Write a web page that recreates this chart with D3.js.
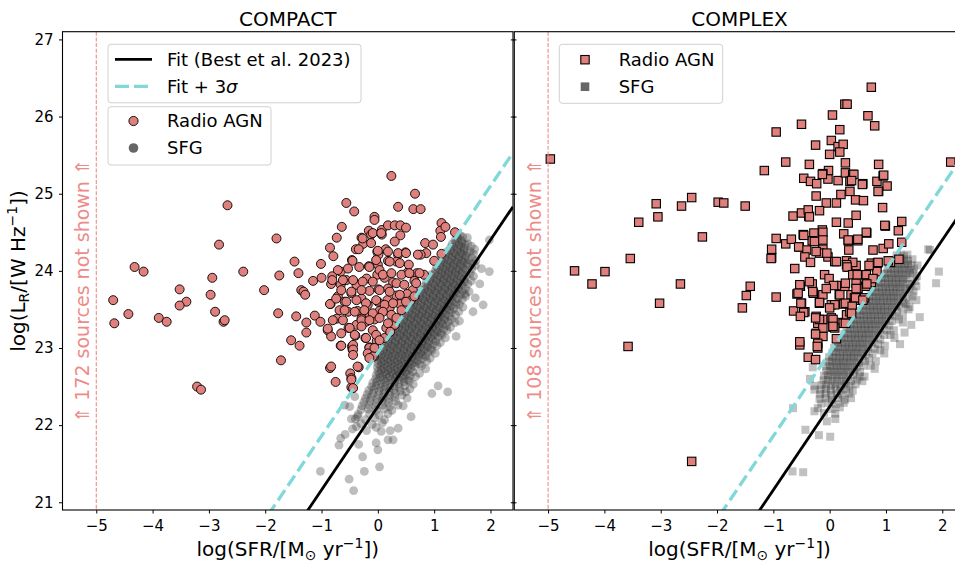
<!DOCTYPE html>
<html lang="en">
<head>
<meta charset="UTF-8">
<title>Radio AGN vs SFG</title>
<style>
    body { margin: 0; background: #fff; }
    svg { font-family: "DejaVu Sans", sans-serif; }
</style>
</head>
<body>
<div id="chart"></div>
<script src="https://d3js.org/d3.v7.min.js"></script>
<script>
// ---- data: [log SFR, log L_R] ----
const compactAgn = [
 [-2.67,24.85],[-2.82,24.34],[-1.80,24.42],[-4.32,24.05],[-4.16,23.99],[-2.39,23.99],[-2.94,23.91],[-1.75,23.94],[-1.48,24.12],[-1.41,23.97],
 [-3.52,23.76],[-2.02,23.75],[-4.70,23.62],[-2.97,23.69],[-3.40,23.60],[-3.52,23.55],[-4.43,23.44],[-4.68,23.32],[-3.89,23.39],[-3.75,23.34],
 [-2.89,23.47],[-2.74,23.34],[-2.72,23.36],[-1.77,23.45],[-1.45,23.41],[-1.54,23.10],[-1.39,23.03],[-1.72,22.84],[-3.21,22.50],[-3.14,22.46],
 [-1.36,23.75],[-1.32,23.73],[-1.29,23.69],[-1.27,23.33],[-1.27,23.20],[-1.12,23.42],[-1.02,23.34],[-0.89,23.23],[-0.83,23.15],[-0.85,22.74],
 [-0.75,22.56],[-0.66,23.03],[-0.84,23.57],
 [0.24,25.23],[0.66,25.00],[0.36,24.83],[0.63,24.80],[0.76,24.80],[-0.56,24.88],[-0.42,24.77],[-0.06,24.70],[-0.06,24.66],[-0.64,24.57],
 [-0.73,24.43],[-0.85,24.30],[-0.79,24.19],[-0.39,24.28],[-0.29,24.43],[-0.26,24.35],[-0.16,24.52],[-0.12,24.47],[0.07,24.53],[0.07,24.47],
 [0.18,24.59],[0.30,24.59],[0.40,24.59],[0.50,24.56],[0.40,24.46],[0.30,24.38],[-0.01,24.25],[0.01,24.21],[0.14,24.28],[0.36,24.21],
 [0.49,24.24],[0.84,24.36],[0.98,24.34],[1.13,24.62],[1.11,24.52],[1.12,24.44],[1.20,24.57],[1.37,24.50],[0.86,24.23],[0.76,24.21],
 [1.13,24.22],[1.00,24.13],[-1.01,24.09],[-1.15,23.87],[-1.00,23.91],[-0.81,23.93],[-0.66,23.99],[-0.46,24.14],[-0.33,24.05],[-0.16,24.06],
 [0.00,24.08],[0.18,24.13],[0.33,24.12],[0.53,23.98],[0.69,23.97],[0.82,23.95],[0.65,23.87],[0.62,23.75],[0.52,23.70],[0.58,23.61],
 [0.49,23.55],[-0.83,23.83],[-0.66,23.82],[-0.56,23.88],[-0.85,23.57],[-0.71,23.67],[-0.47,23.71],[-0.38,23.82],[-0.20,23.90],[-0.15,23.74],
 [-0.01,23.95],[0.12,23.91],[0.27,23.85],[0.18,23.77],[0.01,23.76],[0.33,23.68],[0.17,23.62],[0.00,23.60],[-0.18,23.56],[-0.36,23.48],
 [-0.53,23.47],[-0.68,23.49],[-0.59,23.60],[-0.29,23.64],[-0.15,23.41],[0.03,23.48],[0.21,23.52],[0.39,23.57],[-0.89,23.25],[-0.73,23.38],
 [-0.52,23.26],[-0.38,23.30],[-0.21,23.34],[-0.29,23.38],[-0.06,23.37],[0.15,23.26],[0.30,23.30],[-0.40,23.16],[-0.22,23.13],[-0.02,23.09],
 [0.12,23.13],[-0.46,23.02],[-0.45,22.98],[-0.15,23.01],[-0.09,23.00],[-0.49,22.67],[-0.47,22.61],[-0.34,22.75],[-0.47,22.49],[-0.07,22.89],
 [-0.27,24.42],[-0.09,24.49],[0.06,24.49],[-0.12,24.36],[-0.34,24.28],[0.00,24.26],[0.18,24.25],[-0.03,24.14],[0.36,24.23],[0.50,24.23],
 [0.71,24.21],[-0.45,24.13],[0.21,24.12],[0.39,24.10],[0.55,24.08],[-0.71,24.01],[-0.53,24.03],[-0.15,24.05],[0.03,24.01],[0.09,23.95],
 [0.24,23.97],[0.42,23.95],[0.56,23.97],[0.74,23.97],[-0.81,23.88],[-0.62,23.88],[-0.44,23.88],[-0.27,23.86],[-0.09,23.86],[0.33,23.84],
 [0.47,23.82],[0.68,23.84],[-0.65,23.75],[-0.47,23.73],[-0.29,23.75],[0.03,23.75],[0.21,23.73],[0.39,23.69],[0.50,23.60],[0.65,23.67],
 [-0.74,23.64],[-0.56,23.60],[-0.38,23.62],[-0.21,23.58],[-0.03,23.62],[0.12,23.56],[0.27,23.58],[-0.59,23.49],[-0.41,23.47],[-0.24,23.49],
 [-0.09,23.45],[0.09,23.47],[0.24,23.43],[0.42,23.49],[-0.80,23.36],[-0.62,23.36],[-0.29,23.36],[-0.15,23.36],[0.03,23.39],[0.18,23.32],
 [0.33,23.39],[-0.50,23.26],[-0.29,23.28],[-0.09,23.23],[0.22,23.21],[-0.65,23.19],[-0.41,23.17],[-0.21,23.13],[-0.03,23.17],[0.03,23.10],
 [-0.65,23.03],[-0.44,23.04],[-0.44,22.98],[-0.44,22.91],[-0.15,23.00],[-0.18,22.93],[-0.06,23.00],[-0.09,22.89],[-0.83,22.76],[-0.36,22.76],
 [-0.47,22.59],[-0.44,22.48],[-0.15,22.87]
];

const compactSfg = [
 [1.41,24.45],[1.46,24.46],[1.51,24.44],
 [1.37,24.40],[1.43,24.41],[1.49,24.39],
 [1.32,24.35],[1.38,24.36],[1.44,24.34],[1.50,24.36],[1.55,24.34],
 [1.29,24.30],[1.35,24.31],[1.41,24.29],[1.47,24.31],[1.53,24.29],
 [1.23,24.25],[1.29,24.26],[1.35,24.24],[1.41,24.26],[1.47,24.24],[1.53,24.26],[1.58,24.24],
 [1.20,24.20],[1.26,24.21],[1.32,24.19],[1.38,24.21],[1.44,24.19],[1.50,24.21],[1.56,24.19],
 [1.13,24.15],[1.19,24.16],[1.25,24.14],[1.31,24.16],[1.37,24.14],[1.43,24.16],[1.49,24.14],[1.55,24.16],[1.61,24.14],
 [1.11,24.10],[1.17,24.11],[1.23,24.09],[1.29,24.11],[1.35,24.09],[1.41,24.11],[1.47,24.09],[1.53,24.11],[1.59,24.09],
 [1.04,24.05],[1.10,24.06],[1.16,24.04],[1.22,24.06],[1.28,24.04],[1.34,24.06],[1.40,24.04],[1.46,24.06],[1.52,24.04],[1.60,24.06],
 [1.02,24.00],[1.08,24.01],[1.14,23.99],[1.20,24.01],[1.26,23.99],[1.32,24.01],[1.38,23.99],[1.44,24.01],[1.50,23.99],[1.56,24.01],
 [0.95,23.95],[1.01,23.96],[1.07,23.94],[1.13,23.96],[1.19,23.94],[1.25,23.96],[1.31,23.94],[1.37,23.96],[1.43,23.94],[1.49,23.96],[1.57,23.94],
 [0.93,23.90],[0.99,23.91],[1.05,23.89],[1.11,23.91],[1.17,23.89],[1.23,23.91],[1.29,23.89],[1.35,23.91],[1.41,23.89],[1.47,23.91],[1.53,23.89],
 [0.86,23.85],[0.92,23.86],[0.98,23.84],[1.04,23.86],[1.10,23.84],[1.16,23.86],[1.22,23.84],[1.28,23.86],[1.34,23.84],[1.40,23.86],[1.46,23.84],[1.54,23.86],
 [0.83,23.80],[0.89,23.81],[0.95,23.79],[1.01,23.81],[1.07,23.79],[1.13,23.81],[1.19,23.79],[1.25,23.81],[1.31,23.79],[1.37,23.81],[1.43,23.79],[1.50,23.81],
 [0.77,23.75],[0.83,23.76],[0.89,23.74],[0.95,23.76],[1.01,23.74],[1.07,23.76],[1.13,23.74],[1.19,23.76],[1.25,23.74],[1.31,23.76],[1.37,23.74],[1.43,23.76],[1.50,23.74],
 [0.74,23.70],[0.80,23.71],[0.86,23.69],[0.92,23.71],[0.98,23.69],[1.04,23.71],[1.10,23.69],[1.16,23.71],[1.22,23.69],[1.28,23.71],[1.34,23.69],[1.40,23.71],[1.47,23.69],
 [0.68,23.65],[0.74,23.66],[0.80,23.64],[0.86,23.66],[0.92,23.64],[0.98,23.66],[1.04,23.64],[1.10,23.66],[1.16,23.64],[1.22,23.66],[1.28,23.64],[1.34,23.66],[1.42,23.64],
 [0.65,23.60],[0.71,23.61],[0.77,23.59],[0.83,23.61],[0.89,23.59],[0.95,23.61],[1.01,23.59],[1.07,23.61],[1.13,23.59],[1.19,23.61],[1.25,23.59],[1.31,23.61],[1.39,23.59],
 [0.58,23.55],[0.64,23.56],[0.70,23.54],[0.76,23.56],[0.82,23.54],[0.88,23.56],[0.94,23.54],[1.00,23.56],[1.06,23.54],[1.12,23.56],[1.18,23.54],[1.24,23.56],[1.30,23.54],[1.38,23.56],
 [0.56,23.50],[0.62,23.51],[0.68,23.49],[0.74,23.51],[0.80,23.49],[0.86,23.51],[0.92,23.49],[0.98,23.51],[1.04,23.49],[1.10,23.51],[1.16,23.49],[1.22,23.51],[1.28,23.49],[1.35,23.51],
 [0.49,23.45],[0.55,23.46],[0.61,23.44],[0.67,23.46],[0.73,23.44],[0.79,23.46],[0.85,23.44],[0.91,23.46],[0.97,23.44],[1.03,23.46],[1.09,23.44],[1.15,23.46],[1.21,23.44],[1.30,23.46],
 [0.47,23.40],[0.53,23.41],[0.59,23.39],[0.65,23.41],[0.71,23.39],[0.77,23.41],[0.83,23.39],[0.89,23.41],[0.95,23.39],[1.01,23.41],[1.07,23.39],[1.13,23.41],[1.19,23.39],[1.27,23.41],
 [0.40,23.35],[0.46,23.36],[0.52,23.34],[0.58,23.36],[0.64,23.34],[0.70,23.36],[0.76,23.34],[0.82,23.36],[0.88,23.34],[0.94,23.36],[1.00,23.34],[1.06,23.36],[1.12,23.34],[1.18,23.36],[1.25,23.34],
 [0.37,23.30],[0.43,23.31],[0.49,23.29],[0.55,23.31],[0.61,23.29],[0.67,23.31],[0.73,23.29],[0.79,23.31],[0.85,23.29],[0.91,23.31],[0.97,23.29],[1.03,23.31],[1.09,23.29],[1.15,23.31],[1.22,23.29],
 [0.31,23.25],[0.37,23.26],[0.43,23.24],[0.49,23.26],[0.55,23.24],[0.61,23.26],[0.67,23.24],[0.73,23.26],[0.79,23.24],[0.85,23.26],[0.91,23.24],[0.97,23.26],[1.03,23.24],[1.09,23.26],[1.17,23.24],
 [0.28,23.20],[0.34,23.21],[0.40,23.19],[0.46,23.21],[0.52,23.19],[0.58,23.21],[0.64,23.19],[0.70,23.21],[0.76,23.19],[0.82,23.21],[0.88,23.19],[0.94,23.21],[1.00,23.19],[1.06,23.21],[1.12,23.19],
 [0.22,23.15],[0.28,23.16],[0.34,23.14],[0.40,23.16],[0.46,23.14],[0.52,23.16],[0.58,23.14],[0.64,23.16],[0.70,23.14],[0.76,23.16],[0.82,23.14],[0.88,23.16],[0.94,23.14],[1.00,23.16],[1.07,23.14],
 [0.19,23.10],[0.25,23.11],[0.31,23.09],[0.37,23.11],[0.43,23.09],[0.49,23.11],[0.55,23.09],[0.61,23.11],[0.67,23.09],[0.73,23.11],[0.79,23.09],[0.85,23.11],[0.91,23.09],[0.97,23.11],[1.03,23.09],
 [0.12,23.05],[0.18,23.06],[0.24,23.04],[0.30,23.06],[0.36,23.04],[0.42,23.06],[0.48,23.04],[0.54,23.06],[0.60,23.04],[0.66,23.06],[0.72,23.04],[0.78,23.06],[0.84,23.04],[0.90,23.06],[0.98,23.04],
 [0.10,23.00],[0.16,23.01],[0.22,22.99],[0.28,23.01],[0.34,22.99],[0.40,23.01],[0.46,22.99],[0.52,23.01],[0.58,22.99],[0.64,23.01],[0.70,22.99],[0.76,23.01],[0.82,22.99],[0.88,23.01],[0.94,22.99],
 [0.04,22.95],[0.10,22.96],[0.16,22.94],[0.22,22.96],[0.28,22.94],[0.34,22.96],[0.40,22.94],[0.46,22.96],[0.52,22.94],[0.58,22.96],[0.64,22.94],[0.70,22.96],[0.76,22.94],[0.82,22.96],[0.89,22.94],
 [0.01,22.90],[0.07,22.91],[0.13,22.89],[0.19,22.91],[0.25,22.89],[0.31,22.91],[0.37,22.89],[0.43,22.91],[0.49,22.89],[0.55,22.91],[0.61,22.89],[0.67,22.91],[0.73,22.89],[0.79,22.91],[0.85,22.89],
 [-0.01,22.85],[0.05,22.86],[0.11,22.84],[0.17,22.86],[0.23,22.84],[0.29,22.86],[0.35,22.84],[0.41,22.86],[0.47,22.84],[0.53,22.86],[0.59,22.84],[0.65,22.86],[0.71,22.84],[0.79,22.86],
 [0.00,22.80],[0.06,22.81],[0.12,22.79],[0.18,22.81],[0.24,22.79],[0.30,22.81],[0.36,22.79],[0.42,22.81],[0.48,22.79],[0.54,22.81],[0.60,22.79],[0.66,22.81],[0.74,22.79],
 [-0.01,22.75],[0.05,22.76],[0.11,22.74],[0.17,22.76],[0.23,22.74],[0.29,22.76],[0.35,22.74],[0.41,22.76],[0.47,22.74],[0.53,22.76],[0.59,22.74],[0.66,22.76],
 [0.00,22.70],[0.06,22.71],[0.12,22.69],[0.18,22.71],[0.24,22.69],[0.30,22.71],[0.36,22.69],[0.42,22.71],[0.48,22.69],[0.54,22.71],[0.62,22.69],
 [-0.03,22.65],[0.03,22.66],[0.09,22.64],[0.15,22.66],[0.21,22.64],[0.27,22.66],[0.33,22.64],[0.39,22.66],[0.45,22.64],[0.51,22.66],[0.58,22.64],
 [-0.04,22.60],[0.03,22.61],[0.10,22.59],[0.17,22.61],[0.24,22.59],[0.31,22.61],[0.38,22.59],[0.45,22.61],[0.53,22.59],
 [-0.09,22.55],[-0.02,22.56],[0.06,22.54],[0.14,22.56],[0.22,22.54],[0.30,22.56],[0.38,22.54],[0.47,22.56],
 [-0.11,22.50],[-0.03,22.51],[0.05,22.49],[0.13,22.51],[0.21,22.49],[0.29,22.51],[0.38,22.49],[0.48,22.51],
 [-0.16,22.45],[-0.07,22.46],[0.02,22.44],[0.11,22.46],[0.20,22.44],[0.29,22.46],[0.40,22.44],
 [-0.19,22.40],[-0.09,22.41],[0.01,22.39],[0.11,22.41],[0.21,22.39],[0.31,22.41],[0.43,22.39],
 [-0.22,22.35],[-0.12,22.36],[-0.02,22.34],[0.09,22.36],[0.19,22.34],[0.30,22.36],
 [-0.25,22.30],[-0.14,22.31],[-0.03,22.29],[0.08,22.31],[0.19,22.29],[0.32,22.31],
 [-0.28,22.25],[-0.16,22.26],[-0.04,22.24],[0.08,22.26],[0.21,22.24],[0.36,22.26],
 [-0.30,22.20],[-0.17,22.21],[-0.03,22.19],[0.11,22.21],[0.25,22.19],
 [-0.35,22.14],[-0.15,22.15],[0.02,22.13],[0.18,22.15],
 [-0.40,22.08],[-0.22,22.07],[-0.05,22.09],[0.12,22.07],
 [-0.30,22.02],[-0.10,22.01],[0.08,22.03],
 [1.60,24.35],[1.66,24.32],[1.64,24.25],[1.70,24.22],[1.67,24.17],[1.74,24.13],[1.67,24.03],[1.73,24.07],[1.64,23.97],[1.70,23.93],
 [1.60,23.83],[1.66,23.87],[1.56,23.77],[1.62,23.73],[1.50,23.63],[1.56,23.67],[1.45,23.57],[1.51,23.53],[1.38,23.43],[1.44,23.47],
 [1.31,23.37],[1.37,23.33],[1.23,23.23],[1.29,23.27],[1.14,23.17],[1.20,23.13],[1.05,23.03],[1.11,23.07],[0.96,22.97],[1.02,22.93],
 [0.87,22.83],[0.93,22.87],[0.78,22.77],[0.85,22.73],[0.67,22.63],[0.74,22.67],[0.56,22.57],[0.63,22.53],[0.50,22.43],[0.57,22.47],
 [-0.47,22.08],[-0.03,21.97],[-0.45,21.95],[-0.20,21.93],[0.06,21.92],[-0.58,21.88],[-0.50,22.24],[-0.36,22.11],[-0.41,22.37],[-0.59,22.26],
 [-0.38,21.98],[-0.03,21.77],[0.18,21.81],[0.22,21.93],[0.00,21.68],[-0.69,21.74],[-0.66,21.83],[-0.27,21.59],[-0.24,21.40],[0.03,21.46],
 [-0.43,21.15],[-0.51,21.30],[-1.02,21.40],[-0.34,21.75],[0.27,21.81],[0.36,21.96],[0.59,22.11],[0.96,22.41],[1.07,22.51],[1.24,22.43],
 [1.39,23.15],[1.69,23.47],[1.73,23.65],[1.87,23.56],[1.81,23.83],[1.84,24.03],[1.98,23.99],[1.59,24.43],[1.98,24.40],[1.72,24.28],
 [0.45,22.25],[0.52,22.35],[1.45,23.35],[1.55,23.70],[1.68,24.10]
];

const complexAgn = [
 [-4.96,25.45],[0.74,26.38],[0.27,26.16],[0.31,26.16],[0.05,26.02],[-0.50,25.90],[0.68,26.01],[0.80,25.88],[0.18,25.83],[-0.95,25.80],
 [-0.25,25.63],[0.03,25.69],[0.15,25.61],[0.24,25.64],[0.00,25.51],[0.18,25.54],[-1.16,25.30],[-0.78,25.41],[-0.36,25.38],[0.28,25.40],
 [0.87,25.38],[2.15,25.41],[-0.02,25.30],[-0.12,25.26],[-0.46,25.20],[-0.34,25.16],[-0.23,25.13],[-0.03,25.19],[0.15,25.17],[0.28,25.27],
 [0.41,25.25],[0.36,25.16],[0.59,25.13],[0.84,25.16],[0.95,25.23],[1.02,25.10],[0.87,25.03],[-0.24,24.97],[-0.06,24.88],[0.12,24.88],
 [0.20,24.99],[0.36,25.03],[0.46,24.92],[0.60,24.91],[0.94,24.82],[1.28,24.64],[1.22,24.52],[0.99,24.58],[0.66,24.49],[0.50,24.39],
 [0.33,24.39],[0.34,24.27],[0.12,24.63],[-0.13,24.53],[-0.15,24.41],[-0.28,24.39],[-0.12,24.28],[-0.65,24.71],[-0.50,24.75],[-0.37,24.71],
 [-0.47,24.47],[-0.28,24.49],[-0.31,24.39],[-0.95,24.42],[-1.03,24.28],[-1.03,24.17],[-0.78,24.35],[-0.62,24.03],[-0.54,24.31],[-0.41,24.27],
 [-0.18,24.23],[-0.03,24.18],[0.09,24.12],[0.30,24.13],[0.33,24.05],[0.47,24.07],[0.77,24.27],[0.74,24.10],[0.83,24.05],[1.08,24.11],
 [1.23,24.15],[-3.08,24.87],[-3.05,24.70],[-3.39,24.63],[-3.54,24.16],[-4.53,24.00],[-3.99,23.99],[-2.63,24.84],[-2.45,24.95],[-1.98,24.89],
 [-1.88,24.88],[-1.50,24.84],[-2.26,24.44],[-4.22,23.83],[-2.65,23.83],[-1.41,23.80],[-1.48,23.68],[-1.55,23.52],[-3.02,23.58],[-3.58,23.02],
 [-2.45,21.53],[-0.95,23.66],[-0.52,23.80],[-0.58,23.70],[-0.50,23.58],[-0.44,23.47],[-0.64,23.48],[-0.31,23.83],[-0.29,23.71],[-0.12,23.69],
 [-0.18,23.58],[0.03,23.56],[0.17,23.69],[0.21,23.81],[-0.24,23.41],[-0.12,23.37],[0.03,23.39],[-0.21,23.32],[0.06,23.27],[0.14,23.33],
 [-0.53,23.04],[-0.21,23.00],[-0.38,22.88],[-0.25,22.85],[-0.24,23.19],[-0.12,23.15],[0.12,23.12],[0.24,23.32],[0.30,23.43],[0.36,23.47],
 [0.44,23.62],[0.50,23.75],[0.64,23.80],[0.74,23.85],[0.38,23.69],[0.27,23.80],[-0.13,25.25],[0.43,25.25],[0.39,25.17],[0.58,25.12],
 [0.86,25.03],[0.96,25.24],[-0.38,24.79],[-0.36,24.70],[-0.18,24.78],[0.33,24.62],[0.47,24.72],[0.98,24.59],[-0.12,24.50],[0.25,24.48],
 [0.65,24.50],[-1.04,24.16],[-0.68,24.41],[-0.55,24.31],[-0.46,24.46],[-0.44,24.18],[-0.34,24.11],[-0.27,24.38],[-0.24,24.25],[-0.12,24.40],
 [-0.05,24.23],[0.12,24.12],[0.33,24.40],[0.50,24.41],[0.41,24.11],[0.30,24.08],[0.95,24.29],[1.04,24.13],[0.85,24.10],[0.84,23.99],
 [-0.53,23.82],[-0.56,23.71],[-0.51,23.58],[-0.46,23.46],[-0.36,23.86],[-0.30,23.73],[-0.18,23.59],[-0.09,23.95],[-0.01,23.90],[0.07,23.81],
 [-0.06,23.77],[0.18,23.69],[0.28,23.84],[0.25,23.57],[0.09,23.56],[0.00,23.52],[-0.18,23.37],[-0.12,23.26],[0.06,23.37],[0.09,23.26],
 [0.31,24.05],[0.41,23.95],[0.47,23.84],[0.65,23.95],[0.65,23.84],[0.50,23.77],[0.44,23.65],[0.62,23.65],[0.77,23.90],[-0.52,23.41],
 [-0.53,23.08],[-0.21,23.06],[1.28,24.37],[1.05,24.35],[0.86,24.11],[0.70,24.07],[0.49,23.95],[0.66,23.83],[0.47,23.77],[0.46,23.65],
 [0.59,23.62],[0.28,23.58],[0.40,23.54],[0.39,23.45],[0.28,23.32],[0.06,23.28],[-0.25,23.39],[-0.25,23.18],[-0.22,23.02]
];

const complexSfg = [
 [1.19,24.20],[1.26,24.21],[1.32,24.19],[1.38,24.21],
 [1.13,24.14],[1.19,24.15],[1.26,24.13],[1.32,24.15],[1.39,24.13],
 [1.07,24.08],[1.13,24.09],[1.20,24.07],[1.26,24.09],[1.33,24.07],[1.39,24.09],[1.45,24.07],
 [1.03,24.02],[1.09,24.03],[1.16,24.01],[1.22,24.03],[1.29,24.01],[1.35,24.03],[1.42,24.01],
 [0.96,23.96],[1.02,23.97],[1.09,23.95],[1.15,23.97],[1.22,23.95],[1.28,23.97],[1.35,23.95],[1.42,23.97],
 [0.92,23.90],[0.98,23.91],[1.05,23.89],[1.11,23.91],[1.18,23.89],[1.24,23.91],[1.31,23.89],[1.38,23.91],
 [0.85,23.84],[0.91,23.85],[0.98,23.83],[1.04,23.85],[1.11,23.83],[1.17,23.85],[1.24,23.83],[1.30,23.85],[1.38,23.83],
 [0.81,23.78],[0.87,23.79],[0.94,23.77],[1.00,23.79],[1.07,23.77],[1.13,23.79],[1.20,23.77],[1.26,23.79],[1.34,23.77],
 [0.74,23.72],[0.80,23.73],[0.87,23.71],[0.93,23.73],[1.00,23.71],[1.06,23.73],[1.13,23.71],[1.19,23.73],[1.26,23.71],[1.34,23.73],
 [0.70,23.66],[0.76,23.67],[0.83,23.65],[0.89,23.67],[0.96,23.65],[1.02,23.67],[1.09,23.65],[1.15,23.67],[1.22,23.65],[1.30,23.67],
 [0.63,23.60],[0.69,23.61],[0.76,23.59],[0.82,23.61],[0.89,23.59],[0.95,23.61],[1.02,23.59],[1.08,23.61],[1.15,23.59],[1.22,23.61],[1.31,23.59],
 [0.59,23.54],[0.65,23.55],[0.72,23.53],[0.78,23.55],[0.85,23.53],[0.91,23.55],[0.98,23.53],[1.04,23.55],[1.11,23.53],[1.18,23.55],[1.27,23.53],
 [0.52,23.48],[0.58,23.49],[0.65,23.47],[0.71,23.49],[0.78,23.47],[0.84,23.49],[0.91,23.47],[0.97,23.49],[1.04,23.47],[1.11,23.49],[1.20,23.47],
 [0.48,23.42],[0.54,23.43],[0.61,23.41],[0.67,23.43],[0.74,23.41],[0.80,23.43],[0.87,23.41],[0.93,23.43],[1.00,23.41],[1.07,23.43],[1.16,23.41],
 [0.41,23.36],[0.47,23.37],[0.54,23.35],[0.60,23.37],[0.67,23.35],[0.73,23.37],[0.80,23.35],[0.86,23.37],[0.93,23.35],[1.00,23.37],[1.10,23.35],
 [0.37,23.30],[0.43,23.31],[0.50,23.29],[0.56,23.31],[0.63,23.29],[0.69,23.31],[0.76,23.29],[0.82,23.31],[0.89,23.29],[0.96,23.31],[1.06,23.29],
 [0.30,23.24],[0.36,23.25],[0.43,23.23],[0.49,23.25],[0.56,23.23],[0.62,23.25],[0.69,23.23],[0.75,23.25],[0.82,23.23],[0.90,23.25],[1.01,23.23],
 [0.26,23.18],[0.32,23.19],[0.39,23.17],[0.45,23.19],[0.52,23.17],[0.58,23.19],[0.65,23.17],[0.71,23.19],[0.78,23.17],[0.86,23.19],[0.97,23.17],
 [0.19,23.12],[0.25,23.13],[0.32,23.11],[0.38,23.13],[0.45,23.11],[0.51,23.13],[0.58,23.11],[0.64,23.13],[0.71,23.11],[0.79,23.13],[0.90,23.11],
 [0.15,23.06],[0.21,23.07],[0.28,23.05],[0.34,23.07],[0.41,23.05],[0.47,23.07],[0.54,23.05],[0.60,23.07],[0.67,23.05],[0.75,23.07],[0.86,23.05],
 [0.08,23.00],[0.14,23.01],[0.21,22.99],[0.27,23.01],[0.34,22.99],[0.40,23.01],[0.47,22.99],[0.53,23.01],[0.60,22.99],[0.68,23.01],[0.80,22.99],
 [0.05,22.94],[0.11,22.95],[0.18,22.93],[0.24,22.95],[0.31,22.93],[0.37,22.95],[0.44,22.93],[0.50,22.95],[0.57,22.93],[0.65,22.95],[0.76,22.93],
 [-0.01,22.88],[0.05,22.89],[0.12,22.87],[0.18,22.89],[0.25,22.87],[0.31,22.89],[0.38,22.87],[0.44,22.89],[0.51,22.87],[0.59,22.89],[0.70,22.87],
 [-0.02,22.82],[0.04,22.83],[0.11,22.81],[0.17,22.83],[0.24,22.81],[0.30,22.83],[0.37,22.81],[0.44,22.83],[0.52,22.81],[0.63,22.83],
 [-0.06,22.76],[0.00,22.77],[0.07,22.75],[0.13,22.77],[0.20,22.75],[0.26,22.77],[0.33,22.75],[0.40,22.77],[0.48,22.75],[0.60,22.77],
 [-0.06,22.70],[0.01,22.71],[0.08,22.69],[0.15,22.71],[0.22,22.69],[0.29,22.71],[0.36,22.69],[0.44,22.71],[0.54,22.69],
 [-0.10,22.64],[-0.03,22.65],[0.04,22.63],[0.11,22.65],[0.18,22.63],[0.25,22.65],[0.33,22.63],[0.42,22.65],[0.53,22.63],
 [-0.11,22.58],[-0.03,22.59],[0.05,22.57],[0.13,22.59],[0.21,22.57],[0.29,22.59],[0.38,22.57],[0.49,22.59],
 [-0.14,22.52],[-0.06,22.53],[0.02,22.51],[0.10,22.53],[0.18,22.51],[0.26,22.53],[0.35,22.51],[0.46,22.53],
 [-0.16,22.46],[-0.07,22.47],[0.02,22.45],[0.11,22.47],[0.20,22.45],[0.29,22.47],[0.41,22.45],
 [-0.17,22.40],[-0.07,22.41],[0.03,22.39],[0.13,22.41],[0.23,22.39],[0.35,22.41],
 [-0.18,22.34],[-0.07,22.35],[0.04,22.33],[0.15,22.35],[0.27,22.33],[0.38,22.35],
 [-0.15,22.28],[-0.02,22.29],[0.11,22.27],[0.25,22.29],
 [-0.21,22.22],[0.04,22.21],[0.18,22.23],[-0.10,22.16],[0.10,22.15],
 [1.47,24.15],[1.50,24.03],[1.56,24.07],[1.48,23.97],[1.55,23.93],[1.45,23.83],[1.52,23.87],[1.42,23.77],[1.49,23.73],[1.40,23.63],
 [1.47,23.67],[1.35,23.57],[1.42,23.53],[1.30,23.43],[1.23,23.37],[1.30,23.33],[1.14,23.23],[1.08,23.17],[1.15,23.13],[0.98,23.03],
 [0.90,22.97],[0.97,22.93],[0.82,22.83],[0.73,22.77],[0.80,22.73],[0.62,22.63],[0.58,22.57],
 [-0.65,22.22],[-0.43,21.94],[-0.19,21.87],[0.01,21.85],[-0.66,21.40],[-0.47,21.39],[-0.27,22.46],[-0.27,22.18],[-0.27,22.51],[-0.35,22.60],
 [-0.30,22.75],[1.78,24.27],[1.94,23.99],[1.89,23.84],[1.54,23.62],[1.54,23.80],[1.75,24.28],[-0.05,22.05],[0.10,22.08],[1.60,23.40],
 [1.45,23.30],[1.40,23.50],[1.33,23.20],[1.25,23.05]
];

const xTicks = [-5, -4, -3, -2, -1, 0, 1, 2];
const yTicks = [21, 22, 23, 24, 25, 26, 27];
const xDomain = [-5.6, 2.4];
const yDomain = [20.9, 27.1];
const panelTitles = ["COMPACT", "COMPLEX"];
const notShownCounts = [172, 108];
const sfrCut = -5;
// Best et al. 2023 relation and its +3 sigma offset
const fitIntercept = 22.24, fitSlope = 1.08, fitOffset = 0.7;

// ---- layout ----
const W = 955, H = 565;
const plotTop = 31.7, plotBottom = 510;
const agnColor = "#e0807c", sfgColor = "#333333", cyan = "#80d8d8", coral = "#ee8b88";

let svg = d3.select("#chart").append("svg")
    .attr("width", W).attr("height", H);

let y = d3.scaleLinear().domain(yDomain).range([plotBottom, plotTop]);

const panels = [
    {title: panelTitles[0], agn: compactAgn, sfg: compactSfg, hidden: notShownCounts[0], shape: "circle", left: 62.5, right: 513},
    {title: panelTitles[1], agn: complexAgn, sfg: complexSfg, hidden: notShownCounts[1], shape: "square", left: 514.3, right: 964.8}
];

function drawMarkers(layer, pts, shape, x, style) {
    if (shape === "circle") {
        layer.selectAll(null).data(pts).join("circle")
            .attr("cx", d => x(d[0])).attr("cy", d => y(d[1]))
            .attr("r", style.size)
            .attr("fill", style.fill).attr("fill-opacity", style.opacity)
            .attr("stroke", style.stroke).attr("stroke-width", style.sw);
    } else {
        layer.selectAll(null).data(pts).join("rect")
            .attr("x", d => x(d[0]) - style.size).attr("y", d => y(d[1]) - style.size)
            .attr("width", style.size * 2).attr("height", style.size * 2)
            .attr("fill", style.fill).attr("fill-opacity", style.opacity)
            .attr("stroke", style.stroke).attr("stroke-width", style.sw);
    }
}

const fmt = d => d < 0 ? "\u2212" + Math.abs(d) : String(d);

panels.forEach((p, i) => {
    let x = d3.scaleLinear().domain(xDomain).range([p.left, p.right]);
    let g = svg.append("g");

    svg.append("clipPath").attr("id", "clip" + i)
        .append("rect").attr("x", p.left).attr("y", plotTop)
        .attr("width", p.right - p.left).attr("height", plotBottom - plotTop);

    let plot = g.append("g").attr("clip-path", `url(#clip${i})`);

    let sfgStyle = p.shape === "circle"
        ? {size: 4.4, fill: sfgColor, opacity: 0.32, stroke: "none", sw: 0}
        : {size: 4.0, fill: sfgColor, opacity: 0.3, stroke: "none", sw: 0};
    let agnStyle = p.shape === "circle"
        ? {size: 4.5, fill: agnColor, opacity: 1, stroke: "#000", sw: 0.9}
        : {size: 4.2, fill: agnColor, opacity: 1, stroke: "#000", sw: 1.1};

    drawMarkers(plot.append("g"), p.sfg, p.shape, x, sfgStyle);
    drawMarkers(plot.append("g"), p.agn, p.shape, x, agnStyle);

    // fit lines
    let line = d3.line().x(d => x(d[0])).y(d => y(d[1]));
    let fitPts = xDomain.map(v => [v, fitIntercept + fitSlope * v]);
    let sigPts = xDomain.map(v => [v, fitIntercept + fitOffset + fitSlope * v]);
    plot.append("path").attr("d", line(fitPts))
        .attr("stroke", "#000").attr("stroke-width", 2.8).attr("fill", "none");
    plot.append("path").attr("d", line(sigPts))
        .attr("stroke", cyan).attr("stroke-width", 3.3).attr("fill", "none")
        .attr("stroke-dasharray", "12.2,5.3");

    // SFR cut
    plot.append("line")
        .attr("x1", x(sfrCut)).attr("x2", x(sfrCut))
        .attr("y1", plotTop).attr("y2", plotBottom)
        .attr("stroke", coral).attr("stroke-width", 1.1)
        .attr("stroke-dasharray", "4,1.7");

    g.append("text")
        .attr("transform", `translate(${x(sfrCut) - 7.5},${y(23.74)}) rotate(-90)`)
        .attr("text-anchor", "middle")
        .attr("font-size", 19)
        .attr("fill", coral)
        .text(`\u21D1 ${p.hidden} sources not shown \u21D1`);

    // frame
    g.append("rect")
        .attr("x", p.left).attr("y", plotTop)
        .attr("width", p.right - p.left).attr("height", plotBottom - plotTop)
        .attr("fill", "none").attr("stroke", "#000").attr("stroke-width", 1.1);

    // x axis
    let xa = g.append("g").attr("transform", `translate(0,${plotBottom})`)
        .call(d3.axisBottom(x).tickValues(xTicks).tickSize(3.5).tickPadding(6.5).tickFormat(fmt));
    xa.select(".domain").remove();
    xa.selectAll("text").attr("font-size", 15).attr("font-family", "DejaVu Sans");

    // y ticks: labels only on the left panel
    if (i === 0) {
        let ya = g.append("g").attr("transform", `translate(${p.left},0)`)
            .call(d3.axisLeft(y).tickValues(yTicks).tickSize(3.5).tickPadding(5.5).tickFormat(fmt));
        ya.select(".domain").remove();
        ya.selectAll("text").attr("font-size", 15).attr("font-family", "DejaVu Sans");
        let yr = g.append("g").attr("transform", `translate(${p.right},0)`)
            .call(d3.axisRight(y).tickValues(yTicks).tickSize(3.5).tickFormat(""));
        yr.select(".domain").remove();
    } else {
        let yl = g.append("g").attr("transform", `translate(${p.left},0)`)
            .call(d3.axisLeft(y).tickValues(yTicks).tickSize(3.5).tickFormat(""));
        yl.select(".domain").remove();
    }

    // title and x label
    g.append("text").attr("x", (p.left + p.right) / 2).attr("y", 26)
        .attr("text-anchor", "middle").attr("font-size", 20).text(p.title);

    let xl = g.append("text").attr("x", (p.left + p.right) / 2).attr("y", 556)
        .attr("text-anchor", "middle").attr("font-size", 20);
    xl.append("tspan").text("log(SFR/[M");
    xl.append("tspan").attr("font-size", 14).attr("dy", 4).text("\u2299");
    xl.append("tspan").attr("dy", -4).text(" yr");
    xl.append("tspan").attr("font-size", 14).attr("dy", -8).text("\u22121");
    xl.append("tspan").attr("dy", 8).text("])");
});

// y label
let ylab = svg.append("text")
    .attr("transform", `translate(25,271) rotate(-90)`)
    .attr("text-anchor", "middle").attr("font-size", 20);
ylab.append("tspan").text("log(L");
ylab.append("tspan").attr("font-size", 14).attr("dy", 4).text("R");
ylab.append("tspan").attr("dy", -4).text("/[W Hz");
ylab.append("tspan").attr("font-size", 14).attr("dy", -8).text("\u22121");
ylab.append("tspan").attr("dy", 8).text("])");

// ---- legends ----
function legendBox(x0, y0, w, h) {
    svg.append("rect").attr("x", x0).attr("y", y0).attr("width", w).attr("height", h)
        .attr("rx", 3).attr("fill", "#fff").attr("fill-opacity", 0.8)
        .attr("stroke", "#d0d0d0").attr("stroke-width", 1);
}
function legendText(x0, y0, txt) {
    svg.append("text").attr("x", x0).attr("y", y0).attr("dy", "0.35em")
        .attr("font-size", 18).text(txt);
}

legendBox(108, 44.3, 253, 58.5);
svg.append("line").attr("x1", 115).attr("x2", 152).attr("y1", 59.3).attr("y2", 59.3)
    .attr("stroke", "#000").attr("stroke-width", 2.8);
svg.append("line").attr("x1", 115).attr("x2", 152).attr("y1", 86.3).attr("y2", 86.3)
    .attr("stroke", cyan).attr("stroke-width", 3.3).attr("stroke-dasharray", "14,5");
legendText(167, 59.3, "Fit (Best et al. 2023)");
let fitLabel = svg.append("text").attr("x", 167).attr("y", 86.3).attr("dy", "0.35em").attr("font-size", 18);
fitLabel.append("tspan").text("Fit + 3");
fitLabel.append("tspan").attr("font-style", "italic").text("\u03C3");

legendBox(108, 106.7, 163, 58.3);
svg.append("circle").attr("cx", 133.5).attr("cy", 121).attr("r", 4.6)
    .attr("fill", agnColor).attr("stroke", "#000").attr("stroke-width", 0.9);
svg.append("circle").attr("cx", 133.5).attr("cy", 148).attr("r", 4.8)
    .attr("fill", "#666");
legendText(167, 121, "Radio AGN");
legendText(167, 148, "SFG");

legendBox(559.3, 44.3, 163.4, 59);
svg.append("rect").attr("x", 585 - 4.2).attr("y", 59.7 - 4.2).attr("width", 8.4).attr("height", 8.4)
    .attr("fill", agnColor).attr("stroke", "#000").attr("stroke-width", 1.1);
svg.append("rect").attr("x", 585 - 4.3).attr("y", 86.7 - 4.3).attr("width", 8.6).attr("height", 8.6)
    .attr("fill", "#666");
legendText(618.7, 59.7, "Radio AGN");
legendText(618.7, 86.7, "SFG");
</script>
</body>
</html>
